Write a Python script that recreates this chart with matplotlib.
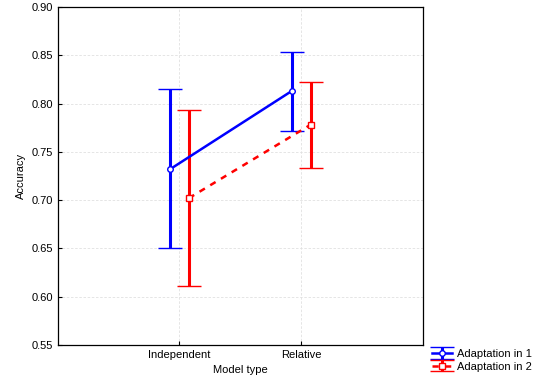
import matplotlib
matplotlib.use('Agg')
import matplotlib.pyplot as plt
import numpy as np

plt.rcParams['font.family'] = ['Liberation Sans', 'DejaVu Sans']

categories = ['Independent', 'Relative']
# Adaptation in 1
mean1 = [0.732, 0.813]
low1 = [0.650, 0.772]
high1 = [0.815, 0.853]
# Adaptation in 2
mean2 = [0.702, 0.778]
low2 = [0.611, 0.733]
high2 = [0.793, 0.822]

x = np.arange(1, len(categories) + 1)
off = 0.077

fig = plt.figure(figsize=(5.4, 3.88), dpi=100)
ax = fig.add_axes([0.107, 0.111, 0.676, 0.871])

err1 = [np.array(mean1) - np.array(low1), np.array(high1) - np.array(mean1)]
err2 = [np.array(mean2) - np.array(low2), np.array(high2) - np.array(mean2)]

h1 = ax.errorbar(x - off, mean1, yerr=err1, color='#0000ff', lw=1.8, ls='-',
                 marker='o', ms=4, mfc='white', mec='#0000ff', mew=1,
                 capsize=8.5, capthick=2.2, elinewidth=2.2, zorder=3,
                 label='Adaptation in 1')
h2 = ax.errorbar(x + off, mean2, yerr=err2, color='#ff0000', lw=1.8, ls=(0, (2.5, 2.5)),
                 marker='s', ms=4, mfc='white', mec='#ff0000', mew=1,
                 capsize=8.5, capthick=2.2, elinewidth=2.2, zorder=3,
                 label='Adaptation in 2')

ax.set_xlim(0, 3)
ax.set_ylim(0.55, 0.90)
ax.set_xticks(x)
ax.set_xticklabels(categories)
ax.set_yticks(np.arange(0.55, 0.901, 0.05))
ax.set_yticklabels(['%.2f' % v for v in np.arange(0.55, 0.901, 0.05)])
ax.tick_params(labelsize=8, direction='in', length=3, width=0.8)
ax.grid(True, color='#e0e0e0', ls=(0, (3, 2)), lw=0.6)
ax.set_axisbelow(True)
for s in ax.spines.values():
    s.set_linewidth(0.9)
ax.set_xlabel('Model type', fontsize=8)
ax.set_ylabel('Accuracy', fontsize=8)

fig.legend(handles=[h1, h2], loc='upper left', bbox_to_anchor=(0.79, 0.115),
           frameon=False, fontsize=8, handlelength=1.8, handletextpad=0.4,
           labelspacing=0.25, borderpad=0)

fig.savefig('out.png', dpi=100)
